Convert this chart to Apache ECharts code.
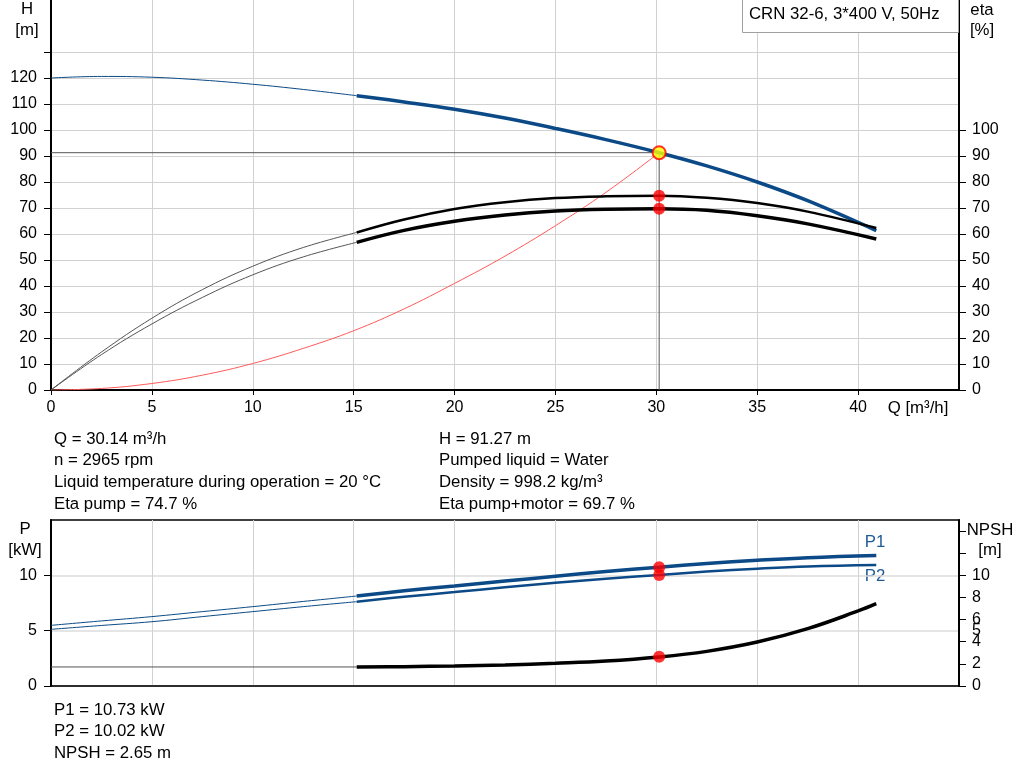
<!DOCTYPE html>
<html>
<head>
<meta charset="utf-8">
<script src="https://cdn.jsdelivr.net/npm/echarts@6/dist/echarts.min.js"></script>
<style>
html,body{margin:0;padding:0;background:#fff;}
#chart{width:1024px;height:781px;}
</style>
</head>
<body>
<div id="chart"></div>
<script>
// ---------- data ----------
const qPoints   = [0, 2.5, 5, 7.5, 10, 12.5, 15.15, 17.5, 20, 22.5, 25, 27.5, 30.14, 32.5, 35, 37.5, 40.9];
const headH     = [120, 120.6, 120.3, 119.2, 117.6, 115.6, 113.2, 110.8, 108.0, 104.6, 100.6, 96.3, 91.27, 86.2, 80.0, 72.8, 61.3];
const etaPump   = [0, 14.6, 27.6, 38.6, 47.6, 54.8, 60.6, 65.6, 69.6, 72.2, 73.8, 74.5, 74.7, 73.9, 71.9, 68.6, 62.3];
const etaTotal  = [0, 13.6, 25.4, 35.6, 44.3, 51.2, 56.8, 61.4, 64.9, 67.3, 68.8, 69.5, 69.7, 69.1, 67.0, 63.9, 58.1];
const powerP1   = [5.48, 5.88, 6.27, 6.72, 7.17, 7.64, 8.13, 8.6, 9.04, 9.48, 9.92, 10.34, 10.73, 11.07, 11.36, 11.6, 11.8];
const powerP2   = [5.12, 5.47, 5.81, 6.27, 6.72, 7.17, 7.62, 8.06, 8.49, 8.92, 9.32, 9.69, 10.04, 10.34, 10.6, 10.8, 10.93];
const qNpsh     = [15.15, 17.5, 20, 22.5, 25, 27.5, 30.14, 32.5, 35, 37.5, 40, 40.9];
const npshReq   = [1.72, 1.75, 1.81, 1.9, 2.05, 2.25, 2.62, 3.13, 3.97, 5.18, 6.78, 7.44];
const qSystem   = [0, 2.5, 5, 7.5, 10, 12.5, 15, 17.5, 20, 22.5, 25, 27.5, 30.14];
const hSystem   = [0, 0.6, 2.5, 5.7, 10.2, 16, 22.8, 31.2, 41, 51.5, 63.2, 76, 91.27];
const dutyStartIndex = 6; // curves drawn bold from qPoints[6]
const duty = { q: 30.14, h: 91.27, etaPump: 74.7, etaTotal: 69.7, p1: 10.73, p2: 10.02, npsh: 2.65 };

const xTicks      = [0, 5, 10, 15, 20, 25, 30, 35, 40];
const hTicks      = [0, 10, 20, 30, 40, 50, 60, 70, 80, 90, 100, 110, 120, 130];
const hLabels     = [0, 10, 20, 30, 40, 50, 60, 70, 80, 90, 100, 110, 120];
const etaLabels   = [0, 10, 20, 30, 40, 50, 60, 70, 80, 90, 100];
const pLabels     = [0, 5, 10];
const npshTicks   = [0, 2, 4, 6, 8, 10, 12, 14];
const npshLabels  = [0, 2, 4, 6, 8, 10];

const infoLeft  = ['Q = 30.14 m³/h', 'n = 2965 rpm', 'Liquid temperature during operation = 20 °C', 'Eta pump = 74.7 %'];
const infoRight = ['H = 91.27 m', 'Pumped liquid = Water', 'Density = 998.2 kg/m³', 'Eta pump+motor = 69.7 %'];
const infoBottom = ['P1 = 10.73 kW', 'P2 = 10.02 kW', 'NPSH = 2.65 m'];
const title = 'CRN 32-6, 3*400 V, 50Hz';

// ---------- helpers ----------
const zip = (xs, ys) => xs.map((x, i) => [x, ys[i]]);
const thin = (xs, ys) => zip(xs, ys).slice(0, dutyStartIndex + 1);
const bold = (xs, ys) => zip(xs, ys).slice(dutyStartIndex);

const FONT = '"Liberation Sans", Arial, sans-serif';
const FS = 16;
const TFS = 16.8;
const BLUE = '#0b4a86';
const GRID = '#d2d2d2';

function txt(text, x, y, align, color, size) {
  return { type: 'text', x: x, y: y, silent: true,
    style: { text: text, fill: color || '#000', font: (size || TFS) + 'px ' + FONT,
      textAlign: align || 'left', textVerticalAlign: 'middle' } };
}

const graphics = [];
graphics.push({ type: 'rect', shape: { x: 742.5, y: -1, width: 216, height: 33.5 },
  style: { fill: '#fff', stroke: '#a0a0a0', lineWidth: 1 }, z: 10 });
graphics.push(Object.assign(txt(title, 749, 14), { z: 11 }));
graphics.push(txt('H', 27, 9, 'center'));
graphics.push(txt('[m]', 27, 30, 'center'));
graphics.push(txt('eta', 982, 10, 'center'));
graphics.push(txt('[%]', 982, 30, 'center'));
graphics.push(txt('Q [m³/h]', 918, 408, 'center'));
graphics.push(txt('P', 25, 529, 'center'));
graphics.push(txt('[kW]', 25, 550, 'center'));
graphics.push(txt('NPSH', 990, 530, 'center'));
graphics.push(txt('[m]', 990, 550, 'center'));
graphics.push(txt('P1', 875, 542, 'center', '#1f5a96'));
graphics.push(txt('P2', 875, 576, 'center', '#1f5a96'));
infoLeft.forEach((t, i) => graphics.push(txt(t, 54, 439 + i * 21.7)));
infoRight.forEach((t, i) => graphics.push(txt(t, 439, 439 + i * 21.7)));
infoBottom.forEach((t, i) => graphics.push(txt(t, 54, 710 + i * 21.6)));

const axisLbl = { color: '#000', fontSize: FS, fontFamily: FONT };
const splitLn = { show: true, lineStyle: { color: GRID, width: 1 } };

const option = {
  animation: false,
  backgroundColor: '#fff',
  grid: [
    { left: 51, top: 0, width: 908, height: 390, outerBoundsMode: 'none', containLabel: false },
    { left: 51, top: 520, width: 908, height: 166, outerBoundsMode: 'none', containLabel: false,
      show: true, borderColor: '#000', borderWidth: 1.5, backgroundColor: 'transparent' }
  ],
  xAxis: [
    { gridIndex: 0, type: 'value', min: 0, max: 45, interval: 5,
      axisLine: { onZero: false, lineStyle: { color: '#000', width: 2 } },
      axisTick: { show: true, length: 5, customValues: xTicks, lineStyle: { color: '#000' } },
      axisLabel: Object.assign({ margin: 10, customValues: xTicks }, axisLbl),
      splitLine: splitLn },
    { gridIndex: 1, type: 'value', min: 0, max: 45, interval: 5,
      axisLine: { onZero: false, lineStyle: { color: '#000', width: 1.5 } },
      axisTick: { show: false }, axisLabel: { show: false },
      splitLine: splitLn }
  ],
  yAxis: [
    { gridIndex: 0, type: 'value', min: 0, max: 150, interval: 10, position: 'left',
      axisLine: { show: true, onZero: false, lineStyle: { color: '#000', width: 2 } },
      axisTick: { show: true, length: 7, customValues: hTicks, lineStyle: { color: '#000' } },
      axisLabel: Object.assign({ margin: 14, customValues: hLabels }, axisLbl),
      splitLine: splitLn },
    { gridIndex: 0, type: 'value', min: 0, max: 150, interval: 10, position: 'right',
      axisLine: { show: true, onZero: false, lineStyle: { color: '#000', width: 2 } },
      axisTick: { show: true, length: 7, customValues: etaLabels, lineStyle: { color: '#000' } },
      axisLabel: Object.assign({ margin: 13, customValues: etaLabels }, axisLbl),
      splitLine: { show: false } },
    { gridIndex: 1, type: 'value', min: 0, max: 15, interval: 5, position: 'left',
      axisLine: { show: true, onZero: false, lineStyle: { color: '#000', width: 2 } },
      axisTick: { show: true, length: 7, customValues: pLabels, lineStyle: { color: '#000' } },
      axisLabel: Object.assign({ margin: 14, customValues: pLabels }, axisLbl),
      splitLine: { show: true, lineStyle: { color: '#dcdcdc', width: 1.5 } } },
    { gridIndex: 1, type: 'value', min: 0, max: 15, interval: 1, position: 'right',
      axisLine: { show: true, onZero: false, lineStyle: { color: '#000', width: 2 } },
      axisTick: { show: true, length: 7, customValues: npshTicks, lineStyle: { color: '#000' } },
      axisLabel: Object.assign({ margin: 13, customValues: npshLabels }, axisLbl),
      splitLine: { show: false } },
    { gridIndex: 1, type: 'value', min: 0, max: 15, interval: 5, position: 'right',
      axisLine: { show: false }, axisTick: { show: false },
      axisLabel: Object.assign({ margin: 13, customValues: [5] }, axisLbl),
      splitLine: { show: false } }
  ],
  graphic: graphics,
  series: [
    // system curve
    { type: 'line', xAxisIndex: 0, yAxisIndex: 0, data: zip(qSystem, hSystem), smooth: 0.4,
      showSymbol: false, lineStyle: { color: '#ff5a5a', width: 1 }, z: 2 },
    // duty reference lines
    { type: 'line', xAxisIndex: 0, yAxisIndex: 0, data: [[0, duty.h], [duty.q, duty.h], [duty.q, 0]],
      showSymbol: false, lineStyle: { color: '#555', width: 1 }, z: 2 },
    // H curve
    { type: 'line', xAxisIndex: 0, yAxisIndex: 0, data: thin(qPoints, headH), smooth: 0.4,
      showSymbol: false, lineStyle: { color: BLUE, width: 1 }, z: 3 },
    { type: 'line', xAxisIndex: 0, yAxisIndex: 0, data: bold(qPoints, headH), smooth: 0.4,
      showSymbol: false, lineStyle: { color: BLUE, width: 3.5 }, z: 3 },
    // eta pump
    { type: 'line', xAxisIndex: 0, yAxisIndex: 1, data: thin(qPoints, etaPump), smooth: 0.4,
      showSymbol: false, lineStyle: { color: '#555', width: 1 }, z: 3 },
    { type: 'line', xAxisIndex: 0, yAxisIndex: 1, data: bold(qPoints, etaPump), smooth: 0.4,
      showSymbol: false, lineStyle: { color: '#000', width: 2.5 }, z: 3 },
    // eta pump+motor
    { type: 'line', xAxisIndex: 0, yAxisIndex: 1, data: thin(qPoints, etaTotal), smooth: 0.4,
      showSymbol: false, lineStyle: { color: '#555', width: 1 }, z: 3 },
    { type: 'line', xAxisIndex: 0, yAxisIndex: 1, data: bold(qPoints, etaTotal), smooth: 0.4,
      showSymbol: false, lineStyle: { color: '#000', width: 3.5 }, z: 3 },
    // duty points (top)
    { type: 'scatter', xAxisIndex: 0, yAxisIndex: 1, data: [[duty.q, duty.etaPump], [duty.q, duty.etaTotal]],
      symbolSize: 12, itemStyle: { color: '#ff0000' }, z: 5 },
    { type: 'scatter', xAxisIndex: 0, yAxisIndex: 0, data: [[duty.q, duty.h]],
      symbolSize: 13, itemStyle: { color: '#ffff00', borderColor: '#ff0000', borderWidth: 2 }, z: 6 },
    // P1, P2
    { type: 'line', xAxisIndex: 1, yAxisIndex: 2, data: thin(qPoints, powerP1), smooth: 0.4,
      showSymbol: false, lineStyle: { color: BLUE, width: 1 }, z: 3 },
    { type: 'line', xAxisIndex: 1, yAxisIndex: 2, data: bold(qPoints, powerP1), smooth: 0.4,
      showSymbol: false, lineStyle: { color: BLUE, width: 3.5 }, z: 3 },
    { type: 'line', xAxisIndex: 1, yAxisIndex: 2, data: thin(qPoints, powerP2), smooth: 0.4,
      showSymbol: false, lineStyle: { color: BLUE, width: 1 }, z: 3 },
    { type: 'line', xAxisIndex: 1, yAxisIndex: 2, data: bold(qPoints, powerP2), smooth: 0.4,
      showSymbol: false, lineStyle: { color: BLUE, width: 2.5 }, z: 3 },
    // NPSH
    { type: 'line', xAxisIndex: 1, yAxisIndex: 3, data: [[0, npshReq[0]], [qNpsh[0], npshReq[0]]],
      showSymbol: false, lineStyle: { color: '#555', width: 1 }, z: 3 },
    { type: 'line', xAxisIndex: 1, yAxisIndex: 3, data: zip(qNpsh, npshReq), smooth: 0.4,
      showSymbol: false, lineStyle: { color: '#000', width: 3.5 }, z: 3 },
    // duty points (bottom)
    { type: 'scatter', xAxisIndex: 1, yAxisIndex: 2, data: [[duty.q, duty.p1], [duty.q, duty.p2]],
      symbolSize: 12, itemStyle: { color: '#ff0000' }, z: 5 },
    { type: 'scatter', xAxisIndex: 1, yAxisIndex: 3, data: [[duty.q, duty.npsh]],
      symbolSize: 12, itemStyle: { color: '#ff0000' }, z: 5 }
  ]
};

const chart = echarts.init(document.getElementById('chart'), null, { renderer: 'canvas' });
chart.setOption(option);
</script>
</body>
</html>
